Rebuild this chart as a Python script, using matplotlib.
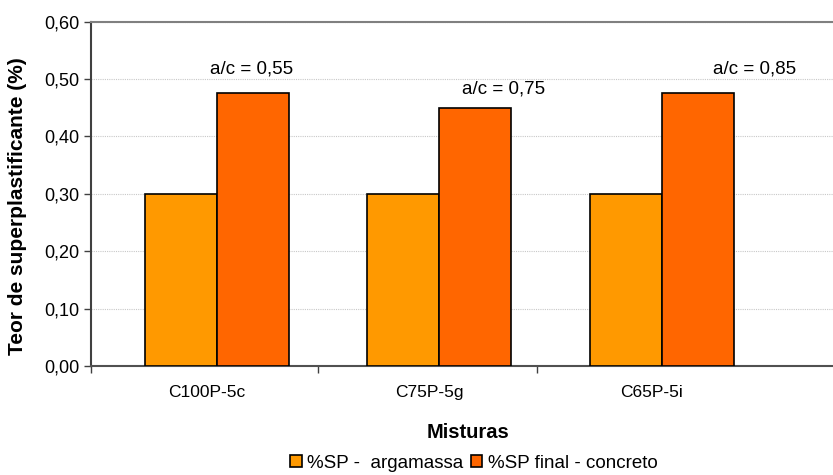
import matplotlib
matplotlib.use("Agg")
import matplotlib.pyplot as plt
from matplotlib.ticker import MultipleLocator, FuncFormatter, FixedLocator
import numpy as np

plt.rcParams['font.family'] = ['Liberation Sans', 'DejaVu Sans']

# Data
misturas = ["C100P-5c", "C75P-5g", "C65P-5i"]
sp_argamassa = [0.30, 0.30, 0.30]
sp_concreto = [0.475, 0.45, 0.475]
series_labels = ["%SP -  argamassa", "%SP final - concreto"]
ac_labels = ["a/c = 0,55", "a/c = 0,75", "a/c = 0,85"]
ac_pos_x = [0.157, 1.29, 2.418]
ac_pos_y = [0.518, 0.482, 0.518]

fig = plt.figure(figsize=(8.33, 4.75), dpi=100)
ax = fig.add_axes([0.1092, 0.2295, 0.8908, 0.7248])

x = np.arange(len(misturas))
w = 0.324
ax.bar(x - w / 2, sp_argamassa, w, color="#FF9900", edgecolor="black",
       linewidth=1.2, label=series_labels[0], zorder=3)
ax.bar(x + w / 2, sp_concreto, w, color="#FF6600", edgecolor="black",
       linewidth=1.2, label=series_labels[1], zorder=3)

for tx, ty, t in zip(ac_pos_x, ac_pos_y, ac_labels):
    ax.text(tx, ty, t, ha="center", va="center", fontsize=13.5)

ax.set_xlim(-0.566, 2.769)
ax.set_ylim(0, 0.60)
ax.yaxis.set_major_locator(MultipleLocator(0.10))
ax.yaxis.set_major_formatter(FuncFormatter(lambda v, p: f"{v:.2f}".replace(".", ",")))
ax.set_xticks(x - 0.045)
ax.set_xticklabels(misturas, fontsize=12.5)
ax.xaxis.set_minor_locator(FixedLocator([-0.566, 0.455, 1.44]))
ax.tick_params(axis="y", labelsize=13, length=5, width=1, color="#404040", pad=3)
ax.tick_params(axis="x", which="major", length=0, pad=14)
ax.tick_params(axis="x", which="minor", length=5, width=1, color="#404040")

ax.grid(axis="y", color="#c8c8c8", linestyle=(0, (1, 1)), linewidth=0.8, zorder=0)

ax.spines["right"].set_visible(False)
ax.spines["top"].set_color("#808080")
ax.spines["top"].set_linewidth(1.5)
ax.spines["left"].set_color("#404040")
ax.spines["left"].set_linewidth(1.5)
ax.spines["bottom"].set_color("#505050")
ax.spines["bottom"].set_linewidth(1.5)

fig.text(18 / 833, 1 - 206 / 475, "Teor de superplastificante (%)", rotation=90,
         ha="center", va="center", fontsize=15, fontweight="bold")
fig.text(468 / 833, 1 - 432 / 475, "Misturas", ha="center", va="center",
         fontsize=14.5, fontweight="bold")

leg = fig.legend(loc="center", bbox_to_anchor=(474 / 833, 1 - 463 / 475), ncol=2,
                 frameon=False, fontsize=13.5, handlelength=0.6, handleheight=0.6,
                 handletextpad=0.3, columnspacing=0.4, borderpad=0)

fig.savefig("out.png", dpi=100)
